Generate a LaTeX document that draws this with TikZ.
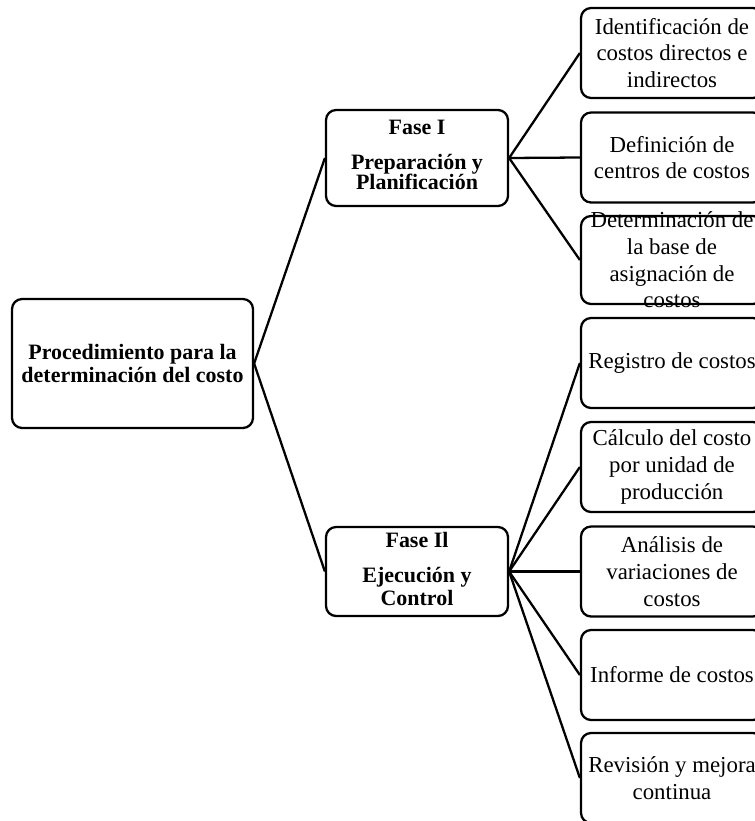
\documentclass[tikz,border=0pt]{standalone}
\usepackage{fontspec}
\setmainfont{Liberation Serif}

\begin{document}
\begin{tikzpicture}[x=0.02cm, y=-0.02cm, line width=1.3pt,
  box/.style={draw, rounded corners=0.2cm, inner sep=0pt, align=center},
  leaf/.style={box, minimum width=3.64cm, minimum height=1.8cm, font=\fontsize{13}{15.2}\selectfont},
  fase/.style={box, minimum width=3.64cm, font=\fontsize{12.5}{12}\selectfont\bfseries}]
\useasboundingbox (0,0) rectangle (754,821);

\node (root) at (132.5,363.5) [box, minimum width=4.82cm, minimum height=2.58cm, font=\fontsize{12.5}{13}\selectfont\bfseries] {Procedimiento para la\\determinación del costo};

\node (f1) at (417,158) [fase, minimum height=1.92cm] {};
\node (f1txt) at (417,155) [align=center, font=\fontsize{12.5}{11.5}\selectfont\bfseries] {Fase I\\[8.5pt]Preparación y\\Planificación};
\node (f2) at (417,571.5) [fase, minimum height=1.78cm] {};
\node (f2txt) at (417,569) [align=center, font=\fontsize{12.5}{13.5}\selectfont\bfseries] {Fase Il\\[6.5pt]Ejecución y\\Control};

\node (a1) at (672,53) [leaf] {Identificación de\\costos directos e\\indirectos};
\node (a2) at (672,157.5) [leaf] {Definición de\\centros de costos};
\node (a3) at (672,260) [leaf, minimum height=1.76cm] {};
\node (a3txt) at (672,260) [align=center, font=\fontsize{13}{15.2}\selectfont] {Determinación de\\la base de\\asignación de\\costos};

\node (b1) at (672,363) [leaf] {Registro de costos};
\node (b2) at (672,467) [leaf] {Cálculo del costo\\por unidad de\\producción};
\node (b3) at (672,571.5) [leaf] {Análisis de\\variaciones de\\costos};
\node (b4) at (672,675) [leaf] {Informe de costos};
\node (b5) at (672,778) [leaf] {Revisión y mejora\\continua};

\draw (root.east) -- (f1.west);
\draw (root.east) -- (f2.west);
\draw (f1.east) -- (a1.west);
\draw (f1.east) -- (a2.west);
\draw (f1.east) -- (a3.west);
\draw (f2.east) -- (b1.west);
\draw (f2.east) -- (b2.west);
\draw (f2.east) -- (b3.west);
\draw (f2.east) -- (b4.west);
\draw (f2.east) -- (b5.west);
\end{tikzpicture}
\end{document}
